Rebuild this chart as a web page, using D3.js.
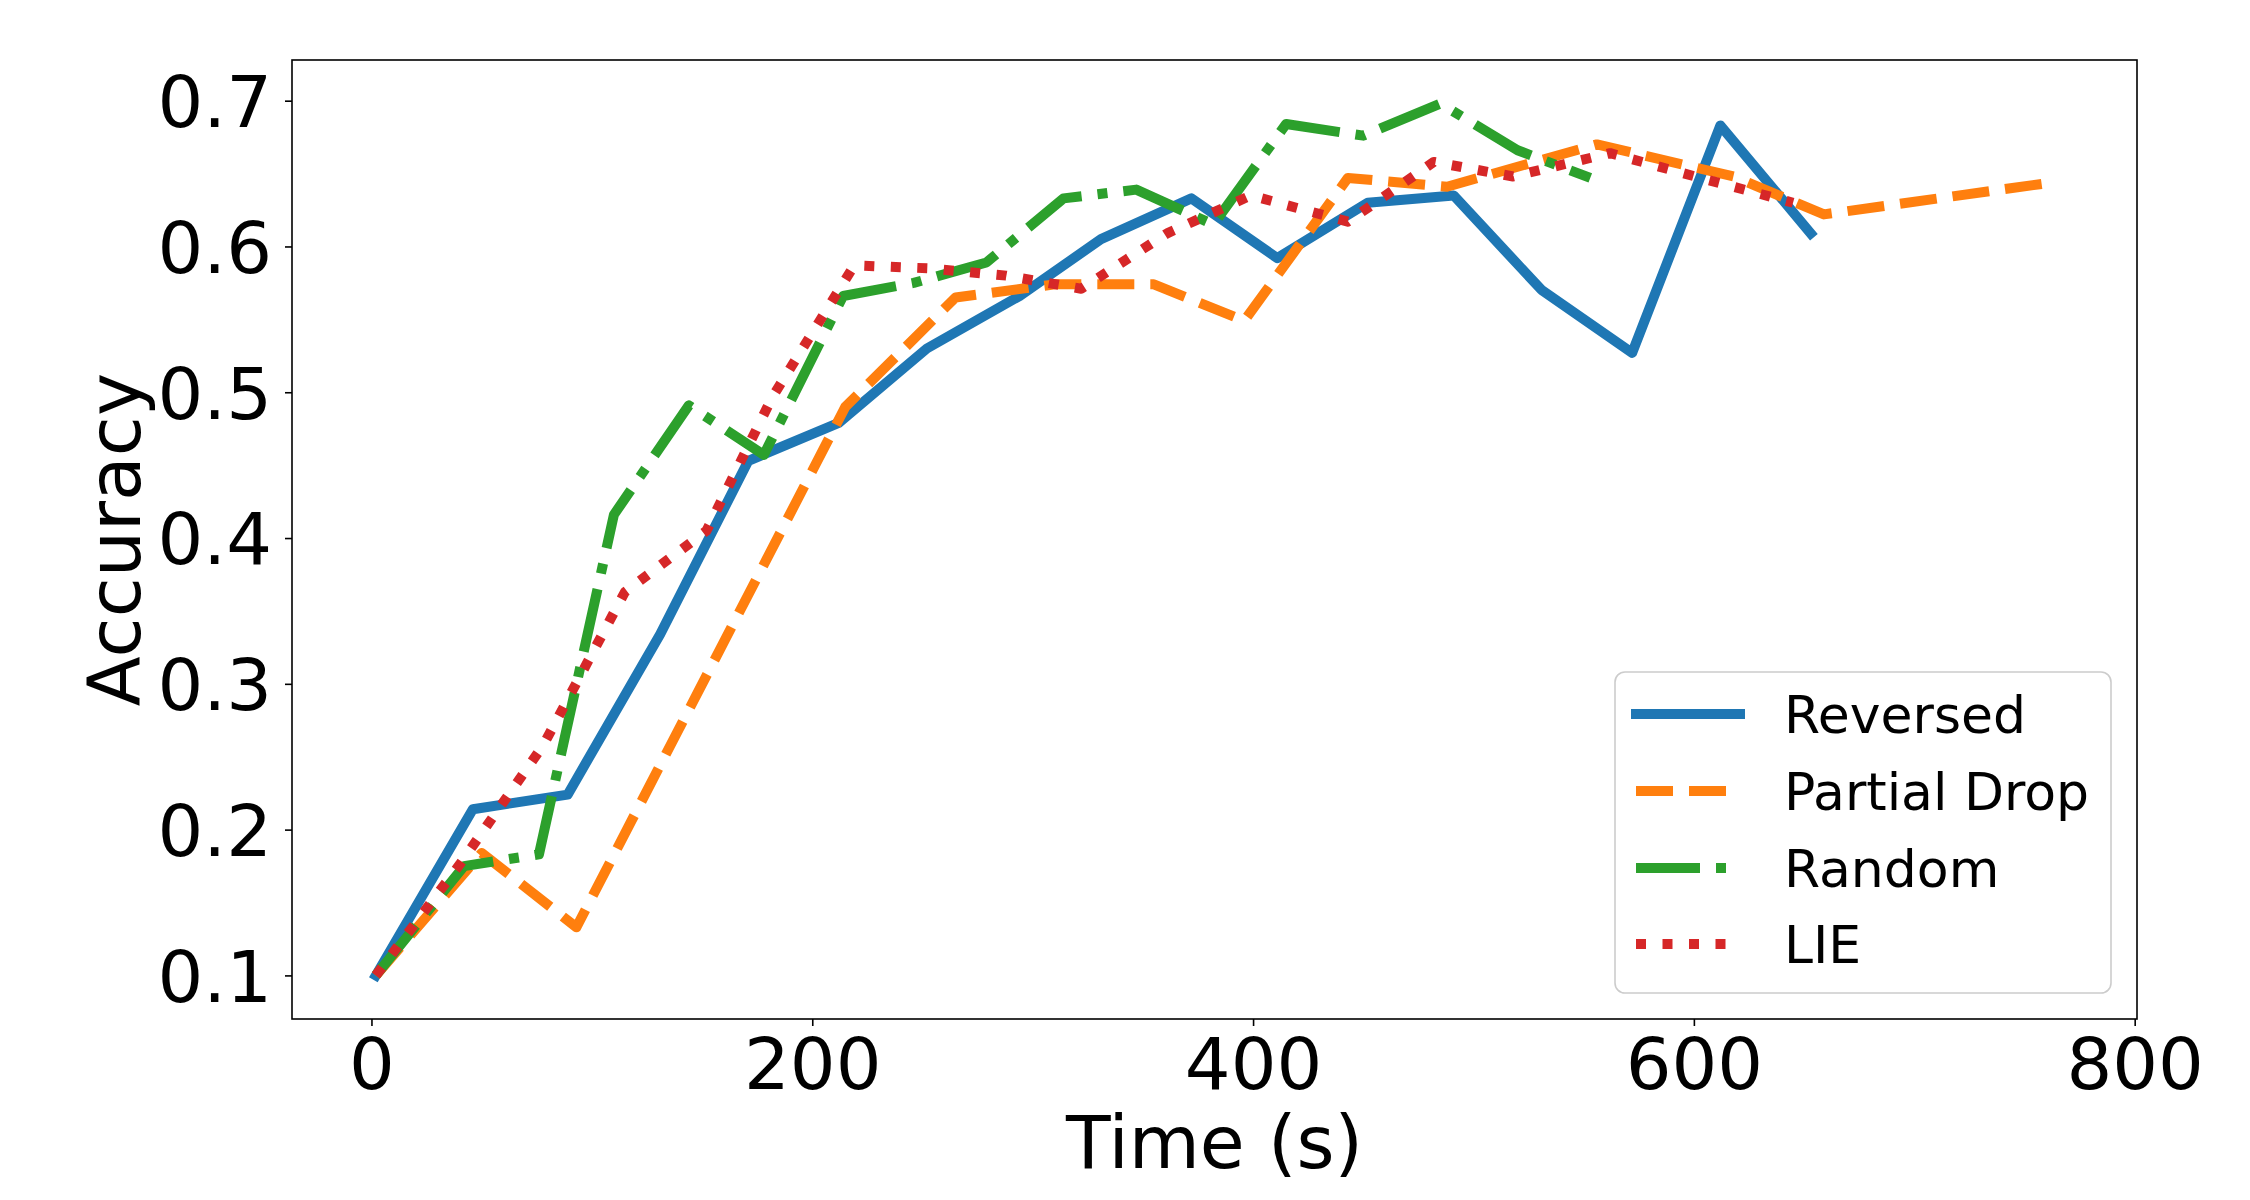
<!DOCTYPE html>
<html lang="en">
  <head>
    <meta charset="UTF-8" />
    <title>Accuracy over time</title>
    <style>
      body { margin: 0; background: #fff; }
      text { font-family: "DejaVu Sans", sans-serif; fill: #000; }
    </style>
  </head>
  <body>
    <div id="chart"></div>

    <script src="https://cdn.jsdelivr.net/npm/d3@7/dist/d3.min.js"></script>
    <script>

    // series (time in s, accuracy)
    var reversedTime = [2, 46, 89, 131, 171, 212, 252, 294, 331, 372, 411, 452, 491, 531, 572, 612, 653];
    var reversedAcc  = [0.1, 0.214, 0.224, 0.334, 0.453, 0.479, 0.530, 0.566, 0.605, 0.633, 0.592, 0.630, 0.635, 0.570, 0.527, 0.683, 0.609];

    var partialTime = [2, 50, 93, 215, 265, 310, 355, 396, 443, 488, 556, 618, 659, 763];
    var partialAcc  = [0.1, 0.184, 0.133, 0.490, 0.565, 0.574, 0.574, 0.549, 0.647, 0.641, 0.670, 0.648, 0.622, 0.644];

    var randomTime = [2, 42, 76, 110, 144, 178, 214, 246, 279, 314, 347, 382, 415, 450, 485, 520, 553];
    var randomAcc  = [0.1, 0.175, 0.183, 0.416, 0.491, 0.457, 0.566, 0.575, 0.589, 0.633, 0.639, 0.615, 0.684, 0.676, 0.698, 0.666, 0.647];

    var lieTime = [2, 40, 78, 115, 152, 182, 219, 253, 288, 322, 361, 399, 443, 482, 518, 562, 603, 645];
    var lieAcc  = [0.1, 0.176, 0.258, 0.363, 0.405, 0.497, 0.587, 0.585, 0.580, 0.571, 0.609, 0.635, 0.617, 0.658, 0.648, 0.664, 0.647, 0.630];

    var seriesNames = ["Reversed", "Partial Drop", "Random", "LIE"];
    var xTicks = [0, 200, 400, 600, 800];
    var yTicks = [0.1, 0.2, 0.3, 0.4, 0.5, 0.6, 0.7];

    // look of each series (matplotlib tab10 + default dash patterns at lw 10)
    var colors = ["#1f77b4", "#ff7f0e", "#2ca02c", "#d62728"];
    var dashes = [null, "37,16", "64,16,10,16", "10,16.5"];
    var caps = ["square", "butt", "butt", "butt"];

    var series = [
      { name: seriesNames[0], t: reversedTime, a: reversedAcc },
      { name: seriesNames[1], t: partialTime, a: partialAcc },
      { name: seriesNames[2], t: randomTime, a: randomAcc },
      { name: seriesNames[3], t: lieTime, a: lieAcc }
    ];
    series.forEach(function(s, i) {
      s.points = s.t.map(function(d, j) { return { t: d, a: s.a[j] }; });
      s.color = colors[i];
      s.dash = dashes[i];
      s.cap = caps[i];
    });

    var W = 2250, H = 1200;
    var pLeft = 292, pRight = 2137, pTop = 60, pBottom = 1019;
    var lw = 10;

    var svg = d3.select("#chart")
                .append("svg")
                .attr("width", W)
                .attr("height", H);

    // 5% margins like matplotlib
    var allT = d3.merge(series.map(function(s) { return s.t; }));
    var allA = d3.merge(series.map(function(s) { return s.a; }));
    var tMin = d3.min(allT), tMax = d3.max(allT);
    var aMin = d3.min(allA), aMax = d3.max(allA);
    var tPad = (tMax - tMin) * 0.05, aPad = (aMax - aMin) * 0.05;

    var xScale = d3.scaleLinear()
                   .domain([tMin - tPad, tMax + tPad])
                   .range([pLeft, pRight]);

    var yScale = d3.scaleLinear()
                   .domain([aMin - aPad, aMax + aPad])
                   .range([pBottom, pTop]);

    // clip lines to the axes box
    svg.append("defs").append("clipPath")
       .attr("id", "plotclip")
       .append("rect")
       .attr("x", pLeft)
       .attr("y", pTop)
       .attr("width", pRight - pLeft)
       .attr("height", pBottom - pTop);

    var line = d3.line()
                 .x(function(d) { return xScale(d.t); })
                 .y(function(d) { return yScale(d.a); });

    svg.append("g")
       .attr("clip-path", "url(#plotclip)")
       .selectAll("path.series")
       .data(series)
       .enter()
       .append("path")
       .attr("class", "series")
       .attr("d", function(d) { return line(d.points); })
       .attr("fill", "none")
       .attr("stroke", function(d) { return d.color; })
       .attr("stroke-width", lw)
       .attr("stroke-dasharray", function(d) { return d.dash; })
       .attr("stroke-linecap", function(d) { return d.cap; })
       .attr("stroke-linejoin", "round");

    // axes
    var xAxis = d3.axisBottom(xScale)
                  .tickValues(xTicks)
                  .tickFormat(d3.format("d"))
                  .tickSize(7)
                  .tickPadding(12);

    var yAxis = d3.axisLeft(yScale)
                  .tickValues(yTicks)
                  .tickFormat(d3.format(".1f"))
                  .tickSize(7)
                  .tickPadding(13);

    var gx = svg.append("g")
                .attr("transform", "translate(0," + pBottom + ")")
                .call(xAxis);

    var gy = svg.append("g")
                .attr("transform", "translate(" + pLeft + ",0)")
                .call(yAxis);

    [gx, gy].forEach(function(g) {
      g.select(".domain").remove();
      g.selectAll(".tick line").attr("stroke", "#000").attr("stroke-width", 1.6);
      g.selectAll(".tick text")
       .attr("fill", "#000")
       .style("font-family", "DejaVu Sans")
       .style("font-size", "72px");
    });
    gy.selectAll(".tick text").attr("dy", "0.36em");
    gx.selectAll(".tick text").attr("dy", "0.71em");

    // frame (spines)
    svg.append("rect")
       .attr("x", pLeft)
       .attr("y", pTop)
       .attr("width", pRight - pLeft)
       .attr("height", pBottom - pTop)
       .attr("fill", "none")
       .attr("stroke", "#000")
       .attr("stroke-width", 1.6);

    // axis titles
    svg.append("text")
       .attr("x", (pLeft + pRight) / 2)
       .attr("y", 1168)
       .attr("text-anchor", "middle")
       .style("font-size", "73px")
       .text("Time (s)");

    svg.append("text")
       .attr("transform", "translate(140," + ((pTop + pBottom) / 2) + ") rotate(-90)")
       .attr("text-anchor", "middle")
       .style("font-size", "73px")
       .text("Accuracy");

    // legend
    var legX = 1615, legY = 672, legW = 496, legH = 321;
    var legend = svg.append("g");

    legend.append("rect")
          .attr("x", legX)
          .attr("y", legY)
          .attr("width", legW)
          .attr("height", legH)
          .attr("rx", 10)
          .attr("ry", 10)
          .attr("fill", "#fff")
          .attr("fill-opacity", 0.8)
          .attr("stroke", "#cccccc")
          .attr("stroke-width", 1.6);

    var rowY = [714, 791, 868, 944];

    var rows = legend.selectAll("g.row")
                     .data(series)
                     .enter()
                     .append("g")
                     .attr("class", "row")
                     .attr("transform", function(d, i) { return "translate(0," + rowY[i] + ")"; });

    rows.append("line")
        .attr("x1", 1636)
        .attr("x2", 1740)
        .attr("y1", 0)
        .attr("y2", 0)
        .attr("stroke", function(d) { return d.color; })
        .attr("stroke-width", lw)
        .attr("stroke-dasharray", function(d) { return d.dash; })
        .attr("stroke-linecap", function(d) { return d.cap; });

    rows.append("text")
        .attr("x", 1784)
        .attr("y", 0)
        .attr("dy", "0.36em")
        .style("font-size", "52px")
        .text(function(d) { return d.name; });

    </script>
  </body>
</html>
